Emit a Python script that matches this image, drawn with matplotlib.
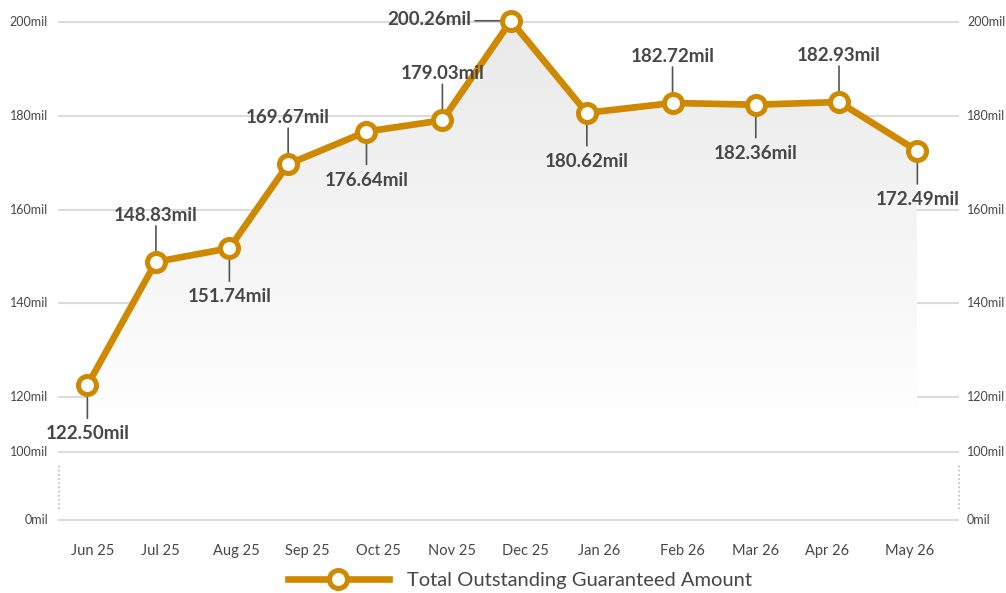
import numpy as np
import matplotlib
matplotlib.use("Agg")
import matplotlib.pyplot as plt
from matplotlib.colors import LinearSegmentedColormap

plt.rcParams['font.family'] = ['Lato', 'DejaVu Sans']

# snapshot dates of each monthly value (points sit on a time axis)
snap_dates = ["2025-05-30", "2025-06-27", "2025-07-27", "2025-08-20",
              "2025-09-21", "2025-10-22", "2025-11-19", "2025-12-20",
              "2026-01-24", "2026-02-27", "2026-04-02", "2026-05-04"]
amounts = [122.50, 148.83, 151.74, 169.67, 176.64, 179.03,
           200.26, 180.62, 182.72, 182.36, 182.93, 172.49]
label_side = ["down", "up", "down", "up", "down", "up",
              "left", "down", "up", "down", "up", "down"]
tick_dates = ["2025-06-01", "2025-06-29", "2025-07-30", "2025-08-28",
              "2025-09-26", "2025-10-26", "2025-11-25", "2025-12-25",
              "2026-01-28", "2026-02-27", "2026-03-28", "2026-05-01"]
tick_labels = ["Jun 25", "Jul 25", "Aug 25", "Sep 25", "Oct 25", "Nov 25",
               "Dec 25", "Jan 26", "Feb 26", "Mar 26", "Apr 26", "May 26"]
x_range = ["2025-05-18", "2026-05-21"]
top_ticks = [120, 140, 160, 180, 200]
bottom_ticks = [0, 100]

W, H = 1006, 593
LINE = "#CF8900"
GRID = "#dcdcdc"
TXT = "#474747"

origin = np.datetime64("2025-06-01")
def days(ds):
    return (np.array(ds, dtype="datetime64[D]") - origin).astype(float)

def px_box(x0, y0, x1, y1):
    return [x0 / W, 1 - y1 / H, (x1 - x0) / W, (y1 - y0) / H]

fig = plt.figure(figsize=(W / 100, H / 100), dpi=100)
ax = fig.add_axes(px_box(58, 10, 959, 425))
axb = fig.add_axes(px_box(58, 440, 959, 528))

x = days(snap_dates)
xt = days(tick_dates)
xlim = tuple(days(x_range))
ylim_top = (114.03, 202.56)

for a in (ax, axb):
    a.set_xlim(*xlim)
    for s in a.spines.values():
        s.set_visible(False)
    a.set_xticks([])
    a.set_yticks([])
    a.patch.set_alpha(0)

ax.set_ylim(*ylim_top)
axb.set_ylim(-11.76, 117.6)

for a, ticks in ((ax, top_ticks), (axb, bottom_ticks)):
    for t in ticks:
        a.axhline(t, color=GRID, lw=1.5, zorder=0)
        a.annotate(f"{t}mil", xy=(0, t), xycoords=a.get_yaxis_transform(),
                   xytext=(-10, 0), textcoords="offset pixels",
                   ha="right", va="center", fontsize=9, color=TXT)
        a.annotate(f"{t}mil", xy=(1, t), xycoords=a.get_yaxis_transform(),
                   xytext=(8, 0), textcoords="offset pixels",
                   ha="left", va="center", fontsize=9, color=TXT,
                   annotation_clip=False)

# dotted break markers on lower axis
for xe in (0.0015, 0.9995):
    axb.axvline(xlim[0] + xe * (xlim[1] - xlim[0]), ymin=0.22, ymax=0.72,
                color="#bbbbbb", lw=1.2, ls=(0, (1, 1.5)), clip_on=False)

for xi, m in zip(xt, tick_labels):
    axb.annotate(m, xy=(xi, 0), xycoords=axb.get_xaxis_transform(),
                 xytext=(0, -16), textcoords="offset pixels",
                 ha="center", va="top", fontsize=10.5, color=TXT,
                 annotation_clip=False)

# gradient area under the line
base = ylim_top[0]
poly = ax.fill_between(x, amounts, base, color="none", lw=0)
grad = LinearSegmentedColormap.from_list("g", ["#ffffff", "#e9e9e9"])
img = ax.imshow(np.linspace(0, 1, 256).reshape(-1, 1), cmap=grad, aspect="auto",
                origin="lower", extent=[x[0], x[-1], base, 201], zorder=1)
img.set_clip_path(poly.get_paths()[0], transform=ax.transData)
ax.set_xlim(*xlim)
ax.set_ylim(*ylim_top)

ax.plot(x, amounts, color=LINE, lw=4.8, marker="o", markersize=13,
        markerfacecolor="white", markeredgecolor=LINE, markeredgewidth=3.6,
        zorder=5, clip_on=False, solid_joinstyle="miter",
        label="Total Outstanding Guaranteed Amount")

for xi, v, side in zip(x, amounts, label_side):
    if side == "up":
        line_off, txt_off, ha, va = (0, 36), (0, 41), "center", "baseline"
    elif side == "down":
        line_off, txt_off, ha, va = (0, -33), (0, -40), "center", "top"
    else:
        line_off, txt_off, ha, va = (-36, 0), (-40, 1), "right", "center"
    ax.annotate("", xy=(xi, v), xytext=line_off, textcoords="offset pixels",
                arrowprops=dict(arrowstyle="-", color="#555555", lw=1.2,
                                shrinkA=0, shrinkB=0),
                zorder=4, annotation_clip=False)
    ax.annotate(f"{v:.2f}mil", xy=(xi, v), xytext=txt_off,
                textcoords="offset pixels", ha=ha, va=va, fontsize=13.5,
                fontweight="bold", color=TXT, zorder=6, annotation_clip=False)

fig.legend(loc="center", bbox_to_anchor=(520 / W, 1 - 580 / H), frameon=False,
           handlelength=5.0, handletextpad=0.9, fontsize=14.5, labelcolor=TXT)

fig.savefig("out.png", dpi=100)
